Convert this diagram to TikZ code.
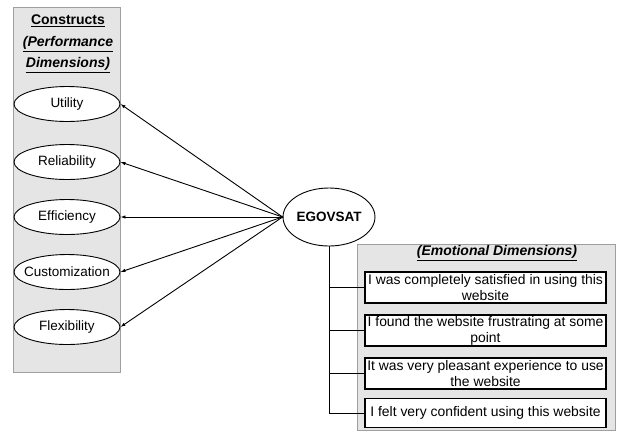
\documentclass[tikz,border=0pt]{standalone}
\usepackage{fontspec}
\setmainfont{Liberation Sans}
\usetikzlibrary{arrows.meta,shapes.geometric}

\tikzset{
  panel/.style={fill=gray!20, draw=gray!75, line width=0.8pt},
  dimension/.style={ellipse, draw, fill=white, line width=0.9pt,
    minimum width=106pt, minimum height=35pt, inner xsep=-7pt, inner ysep=0pt,
    font=\fontsize{13.5}{16}\selectfont},
  item/.style={draw, fill=white, line width=1.3pt, minimum width=241pt,
    minimum height=31pt, inner sep=1pt, align=center,
    font=\fontsize{13.9}{16}\selectfont},
  load/.style={line width=0.9pt, -{Latex[length=5pt,width=3.5pt]}},
}

\begin{document}
\begin{tikzpicture}[x=1pt,y=-1pt]
  \useasboundingbox (0,0) rectangle (617,432);

  % grey panels
  \path[panel] (13,7) rectangle (120,372);
  \path[panel] (357,244) rectangle (615,430);

  \node[align=center, font=\bfseries\fontsize{14}{21.5}\selectfont] (perf) at (68,44)
    {\underline{Constructs}\\ \underline{\itshape (Performance}\\ \underline{\itshape Dimensions)}};
  \node[font=\bfseries\itshape\fontsize{14}{16}\selectfont] (emo) at (497,253)
    {\underline{(Emotional Dimensions)}};

  % performance dimensions
  \node[dimension] (util) at (67,104) {Utility};
  \node[dimension] (reli) at (67,162) {Reliability};
  \node[dimension] (effi) at (67,217) {Efficiency};
  \node[dimension] (cust) at (67,272) {Customization};
  \node[dimension] (flex) at (67,327) {Flexibility};

  \node[ellipse, draw, fill=white, line width=0.9pt, minimum width=84pt, minimum height=58pt,
    inner sep=0pt, font=\bfseries\fontsize{13.5}{16}\selectfont] (ego) at (329,217) {EGOVSAT};

  \draw[load] (ego.west) -- (util.east);
  \draw[load] (ego.west) -- (reli.east);
  \draw[load] (ego.west) -- (effi.east);
  \draw[load] (ego.west) -- (cust.east);
  \draw[load] (ego.west) -- (flex.east);

  % emotional dimensions
  \node[item] (sat) at (485.5,287.5) {I was completely satisfied in using this\\ website};
  \node[item] (frus) at (485.5,330.5) {I found the website frustrating at some\\ point};
  \node[item] (plea) at (485.5,373.5) {It was very pleasant experience to use\\ the website};
  \node[item, minimum height=29pt] (conf) at (485.5,413) {I felt very confident using this website};

  \draw[line width=0.9pt] (ego.south) |- (sat.west);
  \draw[line width=0.9pt] (ego.south) |- (frus.west);
  \draw[line width=0.9pt] (ego.south) |- (plea.west);
  \draw[line width=0.9pt] (ego.south) |- (conf.west);
\end{tikzpicture}
\end{document}
